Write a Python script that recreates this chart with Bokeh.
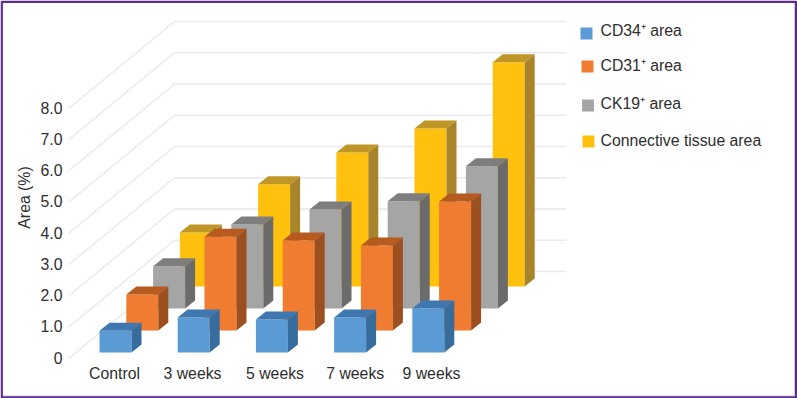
from bokeh.plotting import figure
from bokeh.models import Range1d
from bokeh.embed import file_html
from bokeh.resources import INLINE
from bokeh.core.properties import value

categories = ["Control", "3 weeks", "5 weeks", "7 weeks", "9 weeks"]
series_names = ["CD34⁺ area", "CD31⁺ area", "CK19⁺ area", "Connective tissue area"]
cd34 = [0.70, 1.12, 1.06, 1.12, 1.41]
cd31 = [1.15, 3.00, 2.88, 2.72, 4.13]
ck19 = [1.35, 2.69, 3.17, 3.43, 4.55]
connective = [1.73, 3.27, 4.29, 5.06, 7.18]
y_ticks = [0, 1, 2, 3, 4, 5, 6, 7, 8]
y_tick_labels = ["0", "1.0", "2.0", "3.0", "4.0", "5.0", "6.0", "7.0", "8.0"]

front = ["#5b9bd5", "#ef7c30", "#a5a5a5", "#ffc10e"]
top = ["#3f78b0", "#b65a20", "#7e7e7e", "#bf9628"]
side = ["#376d9d", "#9c5020", "#6b6b6b", "#a8852a"]
TEXT = "#2e2e2e"
GRID = "#e9e9ee"
PURPLE = "#5c2d91"
FONT = "Liberation Sans"
SIZE = "15.8px"

PX = 31.25
BAR_W = 32
DEPTH_X, DEPTH_Y = 10, 8

def bar_x(i, row):
    return 99 + 78.2 * i + 26.8 * row

def base_y(row):
    return 352 - 22 * row

p = figure(width=797, height=398, output_backend="svg", toolbar_location=None,
           x_range=Range1d(0, 797), y_range=Range1d(398, 0), min_border=0,
           outline_line_color=None, background_fill_color="white")
p.axis.visible = False
p.grid.visible = False

# walls
gx, gy = [], []
for t in y_ticks:
    b = 271 - t * PX
    gx.append([68, 174, 566])
    gy.append([b + 87, b, b])
p.multi_line(gx, gy, line_color=GRID, line_width=1.4)

# bars
rows = [cd34, cd31, ck19, connective]
xs, ys, cs = [], [], []
for row in (3, 2, 1, 0):
    for i, v in enumerate(rows[row]):
        x0 = bar_x(i, row)
        x1 = x0 + BAR_W
        yb = base_y(row)
        yt = yb - v * PX
        xs += [[x0, x1, x1, x0],
               [x0, x1, x1 + DEPTH_X, x0 + DEPTH_X],
               [x1, x1 + DEPTH_X, x1 + DEPTH_X, x1]]
        ys += [[yb, yb, yt, yt],
               [yt, yt, yt - DEPTH_Y, yt - DEPTH_Y],
               [yb, yb - DEPTH_Y, yt - DEPTH_Y, yt]]
        cs += [front[row], top[row], side[row]]
p.patches(xs, ys, fill_color=cs, line_color=None)

# y tick labels
p.text([62] * len(y_ticks), [357 - t * PX for t in y_ticks], text=y_tick_labels,
       text_font=value(FONT), text_font_size=SIZE, text_color=TEXT,
       text_align="right", text_baseline="middle")
p.text([24], [197], text=["Area (%)"], angle=1.5708,
       text_font=value(FONT), text_font_size=SIZE, text_color=TEXT,
       text_align="center", text_baseline="middle")

# category labels
label_x = [114, 192, 274.5, 354.7, 431]
p.text(label_x, [373] * 5, text=categories,
       text_font=value(FONT), text_font_size=SIZE, text_color=TEXT,
       text_align="center", text_baseline="middle")

# legend
swatch_x = [580, 581, 581.5, 582]
swatch_y = [27, 60, 99, 135]
p.quad(left=swatch_x, right=[x + 12 for x in swatch_x],
       top=swatch_y, bottom=[y + 12 for y in swatch_y],
       fill_color=front, line_color=None)
p.text([600] * 4, [30, 65, 103, 140], text=series_names,
       text_font=value(FONT), text_font_size=SIZE, text_color=TEXT,
       text_align="left", text_baseline="middle")

# frame
p.line([2.5, 794, 794], [395.4, 395.4, 2.5], line_color="#cfcfcf", line_width=1)
p.quad(left=[1.2], right=[795.7], top=[1.2], bottom=[397], fill_color=None,
       line_color=PURPLE, line_width=2.4)

open("out.html", "w").write(file_html(p, INLINE))
